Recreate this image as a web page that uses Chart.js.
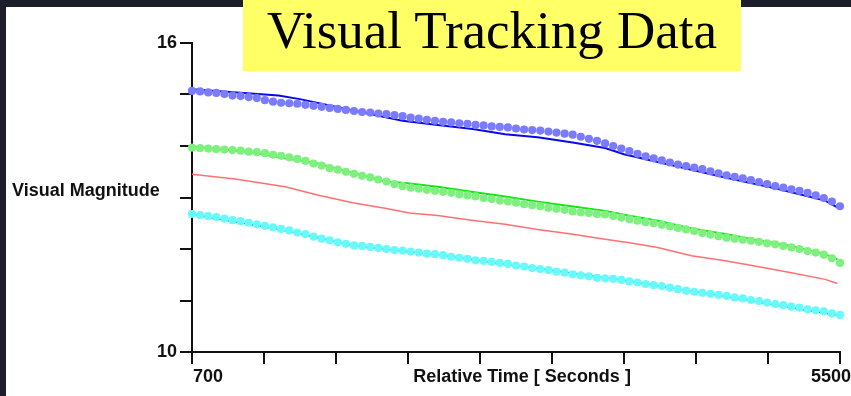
<!DOCTYPE html>
<html>
<head>
<meta charset="utf-8">
<script src="https://cdn.jsdelivr.net/npm/chart.js@4/dist/chart.umd.min.js"></script>
<style>
  html, body { margin: 0; padding: 0; }
  body { width: 851px; height: 396px; background: #1c1f29; position: relative; overflow: hidden; }
  #panel { position: absolute; left: 6px; top: 7px; width: 845px; height: 389px; background: #ffffff; }
  #grafico { position: absolute; left: 0; top: 0; }
  #titulo { position: absolute; left: 243px; top: 0; width: 498px; height: 71px; background: #ffff66; }
  #titulo span { position: absolute; left: 0; top: 4px; width: 100%; text-align: center;
                 font-family: "Liberation Serif", "Times New Roman", serif; font-size: 53px; line-height: 53px; color: #000; }
</style>
</head>
<body>
<div id="panel"><canvas id="grafico" width="845" height="389"></canvas></div>
<div id="titulo"><span>Visual Tracking Data</span></div>
<script>
// tiempos de los puntos (segundos)
const dotTimes = [700,760,820,880,940,1000,1060,1120,1180,1240,1300,1360,1420,1480,1540,1600,1660,1720,1780,1840,
  1900,1960,2020,2080,2140,2200,2260,2320,2380,2440,2500,2560,2620,2680,2740,2800,2860,2920,2980,3040,
  3100,3160,3220,3280,3340,3400,3460,3520,3580,3640,3700,3760,3820,3880,3940,4000,4060,4120,4180,4240,
  4300,4360,4420,4480,4540,4600,4660,4720,4780,4840,4900,4960,5020,5080,5140,5200,5260,5320,5380,5440,5500];

const blueDots = [15.07,15.06,15.04,15.03,15.01,14.98,14.97,14.95,14.93,14.89,
  14.86,14.84,14.83,14.82,14.80,14.78,14.76,14.74,14.72,14.70,
  14.68,14.66,14.65,14.63,14.62,14.60,14.58,14.55,14.53,14.51,
  14.49,14.47,14.46,14.44,14.43,14.41,14.40,14.38,14.37,14.36,
  14.34,14.32,14.31,14.30,14.28,14.26,14.24,14.22,14.18,14.14,
  14.10,14.05,14.00,13.95,13.90,13.85,13.80,13.76,13.72,13.68,
  13.64,13.61,13.58,13.55,13.51,13.47,13.43,13.40,13.37,13.34,
  13.30,13.26,13.22,13.19,13.16,13.13,13.09,13.04,12.99,12.92,12.83];

const greenDots = [13.97,13.96,13.95,13.94,13.93,13.92,13.91,13.89,13.88,13.86,
  13.83,13.81,13.78,13.75,13.71,13.66,13.62,13.57,13.54,13.50,
  13.46,13.42,13.39,13.35,13.31,13.26,13.22,13.19,13.17,13.15,
  13.13,13.11,13.09,13.06,13.04,13.02,12.99,12.97,12.94,12.92,
  12.90,12.87,12.85,12.83,12.80,12.78,12.76,12.73,12.71,12.70,
  12.68,12.67,12.64,12.61,12.58,12.55,12.52,12.50,12.47,12.44,
  12.41,12.38,12.35,12.31,12.28,12.25,12.22,12.20,12.18,12.16,
  12.14,12.11,12.09,12.06,12.03,12.00,11.96,11.93,11.89,11.82,11.73];

const cyanDots = [12.68,12.66,12.64,12.62,12.59,12.56,12.54,12.51,12.48,12.45,
  12.42,12.39,12.36,12.32,12.29,12.24,12.20,12.17,12.13,12.10,
  12.07,12.06,12.04,12.02,12.00,11.98,11.97,11.95,11.93,11.91,
  11.90,11.88,11.85,11.83,11.81,11.78,11.77,11.75,11.73,11.71,
  11.68,11.66,11.63,11.61,11.59,11.56,11.54,11.51,11.49,11.47,
  11.44,11.43,11.42,11.40,11.37,11.35,11.32,11.30,11.28,11.25,
  11.22,11.19,11.17,11.15,11.13,11.11,11.09,11.06,11.04,11.01,
  10.99,10.96,10.93,10.91,10.88,10.86,10.83,10.81,10.79,10.75,10.72];

// lineas continuas
const blueLineTime = [700,1340,1500,1930,2260,2520,2780,3020,3260,3520,3760,3900,4280,4650,5020,5390,5480];
const blueLine = [15.10,14.98,14.91,14.67,14.49,14.41,14.33,14.23,14.17,14.07,13.96,13.84,13.61,13.39,13.18,12.94,12.81];

const greenLineTime = [700,1140,1390,1630,1890,2130,2280,2520,2770,3020,3260,3510,3760,3910,4150,4400,4650,4890,5140,5390,5480];
const greenLine = [13.99,13.88,13.76,13.66,13.48,13.31,13.28,13.21,13.11,13.02,12.92,12.83,12.74,12.66,12.55,12.40,12.29,12.17,12.06,11.90,11.80];

const redLineTime = [700,1020,1390,1630,1890,2130,2310,2520,2770,3020,3260,3510,3760,3940,4150,4400,4650,4890,5140,5390,5480];
const redLine = [13.45,13.36,13.21,13.05,12.90,12.79,12.70,12.65,12.56,12.48,12.38,12.29,12.19,12.12,12.03,11.87,11.77,11.66,11.54,11.41,11.33];

const cyanLineTime = [700,1330,1510,1890,2260,2550,3040,3290,3910,4150,4650,5140,5500];
const cyanLine = [12.67,12.39,12.29,12.07,11.96,11.88,11.70,11.61,11.39,11.28,11.08,10.86,10.71];

// ticks de los ejes
const xTicks = [700,1233.33,1766.67,2300,2833.33,3366.67,3900,4433.33,4966.67,5500];
const yTickLabels = [10,16];

const pares = (ts, vs) => ts.map((t, i) => ({ x: t, y: vs[i] }));

const FONT = '"Liberation Sans", Arial, sans-serif';

// textos de los ejes (etiquetas en los extremos y titulos)
const textosEjes = {
  id: 'textosEjes',
  afterDraw(chart) {
    const ctx = chart.ctx;
    const sx = chart.scales.x;
    const sy = chart.scales.y;
    const area = chart.chartArea;
    ctx.save();
    ctx.fillStyle = '#111';
    ctx.font = 'bold 18px ' + FONT;
    ctx.textBaseline = 'alphabetic';
    const base = area.bottom + 30;
    ctx.textAlign = 'left';
    ctx.fillText('700', sx.getPixelForValue(700) + 1, base);
    ctx.textAlign = 'right';
    ctx.fillText('5500', chart.width, base);
    ctx.textAlign = 'center';
    ctx.fillText('Relative Time [ Seconds ]', (area.left + area.right) / 2 + 6, base);
    ctx.textAlign = 'left';
    ctx.fillText('Visual Magnitude', 6, sy.getPixelForValue(13) - 2);
    ctx.restore();
  }
};

const puntos = (data, color) => ({
  data: data, showLine: false, pointRadius: 4.1, pointHoverRadius: 4.1,
  pointBackgroundColor: color, pointBorderWidth: 0, borderWidth: 0, clip: false, order: 1
});
const linea = (data, color, w) => ({
  data: data, showLine: true, pointRadius: 0, borderColor: color, borderWidth: w,
  fill: false, tension: 0, order: 2
});

new Chart(document.getElementById('grafico'), {
  type: 'scatter',
  data: {
    datasets: [
      puntos(pares(dotTimes, blueDots), '#7b7bff'),
      puntos(pares(dotTimes, greenDots), '#7df07d'),
      puntos(pares(dotTimes, cyanDots), '#66fafa'),
      linea(pares(blueLineTime, blueLine), '#0a0ae6', 2),
      linea(pares(greenLineTime, greenLine), '#12e612', 2),
      linea(pares(redLineTime, redLine), '#ff7070', 1.5),
      linea(pares(cyanLineTime, cyanLine), '#2f6a6a', 1.5)
    ]
  },
  options: {
    responsive: false,
    animation: false,
    layout: { padding: { top: 36, right: 11, left: 0, bottom: 0 } },
    plugins: { legend: { display: false }, tooltip: { enabled: false } },
    scales: {
      x: {
        type: 'linear', min: 700, max: 5500,
        afterBuildTicks: (scale) => { scale.ticks = xTicks.map(v => ({ value: v })); },
        afterFit: (scale) => { scale.height = 44; },
        ticks: { display: false },
        grid: { drawOnChartArea: false, drawTicks: true, tickLength: 12, color: '#111', lineWidth: 2 },
        border: { display: true, color: '#111', width: 2 }
      },
      y: {
        type: 'linear', min: 10, max: 16,
        afterFit: (scale) => { scale.width = 186; },
        ticks: {
          stepSize: 1, padding: 3, color: '#111',
          font: { family: FONT, size: 18, weight: 'bold' },
          callback: (v) => yTickLabels.includes(v) ? String(v) : ''
        },
        grid: { drawOnChartArea: false, drawTicks: true, tickLength: 12, color: '#111', lineWidth: 2 },
        border: { display: true, color: '#111', width: 2 }
      }
    }
  },
  plugins: [textosEjes]
});
</script>
</body>
</html>
